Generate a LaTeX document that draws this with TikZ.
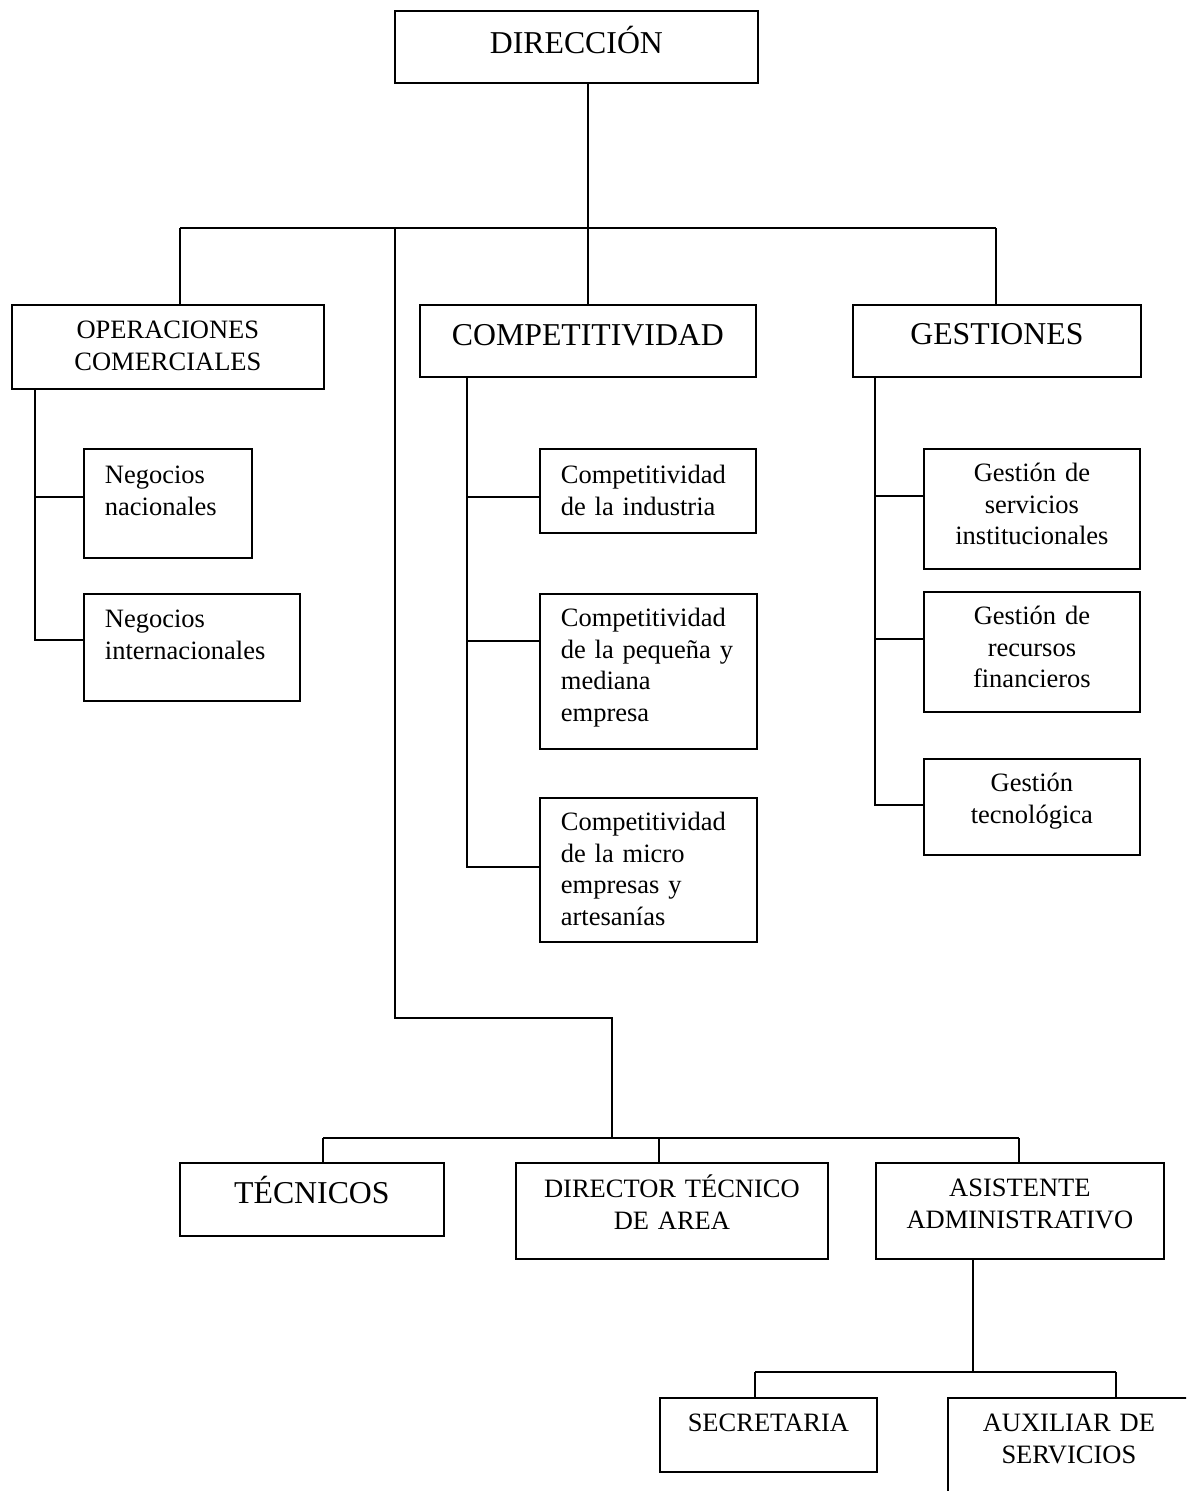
\documentclass[tikz,border=0pt]{standalone}
\usepackage{fontspec}
\setmainfont{Liberation Serif}
\usepackage{tikz}
\newcommand{\letrachica}{\fontsize{26.5}{31.5}\selectfont}
\newcommand{\letragrande}{\fontsize{31.8}{38}\selectfont}

\begin{document}
\begin{tikzpicture}[x=1pt,y=-1pt,line width=1.8pt,
  caja/.style={draw,anchor=north west,inner ysep=0pt,font=\letrachica},
  cen/.style={caja,align=center,inner xsep=5pt},
  izq/.style={caja,align=left,inner xsep=21pt},
  tam/.style n args={3}{text width=#1,text height=#2,text depth=#3}]%
\useasboundingbox (0,0) rectangle (1186,1491);
\clip (0,0) rectangle (1186,1491);
% primer nivel
\draw node [cen,tam={353pt}{43pt}{29pt},font=\letragrande] (dir) at (394,10) {DIRECCIÓN};
\draw node [cen,tam={302pt}{34pt}{50pt}] (opc) at (11,304) {OPERACIONES\\COMERCIALES};
\draw node [cen,tam={326pt}{41pt}{31pt},font=\letragrande] (comp) at (419,304) {COMPETITIVIDAD};
\draw node [cen,tam={278pt}{40pt}{32pt},font=\letragrande] (gest) at (852,304) {GESTIONES};
% areas
\draw node [izq,tam={126pt}{35pt}{74pt}] (negnac) at (83,448) {Negocios\\nacionales};
\draw node [izq,tam={174pt}{34pt}{73pt}] (negint) at (83,593) {Negocios\\internacionales};
\draw node [izq,tam={174pt}{35pt}{49pt}] (compind) at (539,448) {Competitividad\\de la industria};
\draw node [izq,tam={175pt}{33pt}{122pt}] (comppeq) at (539,593) {Competitividad\\de la pequeña y\\mediana\\empresa};
\draw node [izq,tam={175pt}{33pt}{111pt}] (compmic) at (539,797) {Competitividad\\de la micro\\empresas y\\artesanías};
\draw node [cen,tam={206pt}{33pt}{87pt}] (gserv) at (923,448) {Gestión de\\servicios\\institucionales};
\draw node [cen,tam={206pt}{33pt}{87pt}] (grec) at (923,591) {Gestión de\\recursos\\financieros};
\draw node [cen,tam={206pt}{33pt}{63pt}] (gtec) at (923,758) {Gestión\\tecnológica};
% personal
\draw node [cen,tam={254pt}{41pt}{32pt},font=\letragrande] (tec) at (179,1162) {TÉCNICOS};
\draw node [cen,tam={302pt}{35pt}{61pt}] (dirtec) at (515,1162) {DIRECTOR TÉCNICO\\DE AREA};
\draw node [cen,tam={278pt}{34pt}{62pt}] (asis) at (875,1162) {ASISTENTE\\ADMINISTRATIVO};
\draw node [cen,tam={207pt}{34pt}{40pt}] (sec) at (659,1397) {SECRETARIA};
\draw node [cen,tam={232pt}{34pt}{62pt}] (aux) at (947,1397) {AUXILIAR DE\\SERVICIOS};
% uniones
\coordinate (barra) at (588,228);
\coordinate (k1) at (180,228);
\coordinate (k2) at (395,228);
\coordinate (k3) at (996,228);
\coordinate (k4) at (612,1018);
\coordinate (k5) at (612,1138);
\draw (dir.south -| barra) -- (barra);
\draw (k1) -- (k3);
\draw (k1) -- (opc.north -| k1);
\draw (barra) -- (comp.north -| barra);
\draw (k3) -- (gest.north -| k3);
\draw (k2) |- (k4) -- (k5);
% ramas
\coordinate (ta1) at (35,497);
\coordinate (ta2) at (35,640);
\draw (opc.south -| ta2) -- (ta2) -- (negint.west |- ta2);
\draw (ta1) -- (negnac.west |- ta1);
\coordinate (tb1) at (467,497);
\coordinate (tb2) at (467,641);
\coordinate (tb3) at (467,867);
\draw (comp.south -| tb3) -- (tb3) -- (compmic.west |- tb3);
\draw (tb1) -- (compind.west |- tb1);
\draw (tb2) -- (comppeq.west |- tb2);
\coordinate (tc1) at (875,496);
\coordinate (tc2) at (875,639);
\coordinate (tc3) at (875,805);
\draw (gest.south -| tc3) -- (tc3) -- (gtec.west |- tc3);
\draw (tc1) -- (gserv.west |- tc1);
\draw (tc2) -- (grec.west |- tc2);
% personal
\coordinate (m1) at (323,1138);
\coordinate (m2) at (659,1138);
\coordinate (m3) at (1019,1138);
\draw (m1) -- (m3);
\draw (m1) -- (tec.north -| m1);
\draw (m2) -- (dirtec.north -| m2);
\draw (m3) -- (asis.north -| m3);
\coordinate (n1) at (755,1372);
\coordinate (n2) at (973,1372);
\coordinate (n3) at (1116,1372);
\draw (asis.south -| n2) -- (n2);
\draw (n1) -- (n3);
\draw (n1) -- (sec.north -| n1);
\draw (n3) -- (aux.north -| n3);
\end{tikzpicture}
\end{document}
